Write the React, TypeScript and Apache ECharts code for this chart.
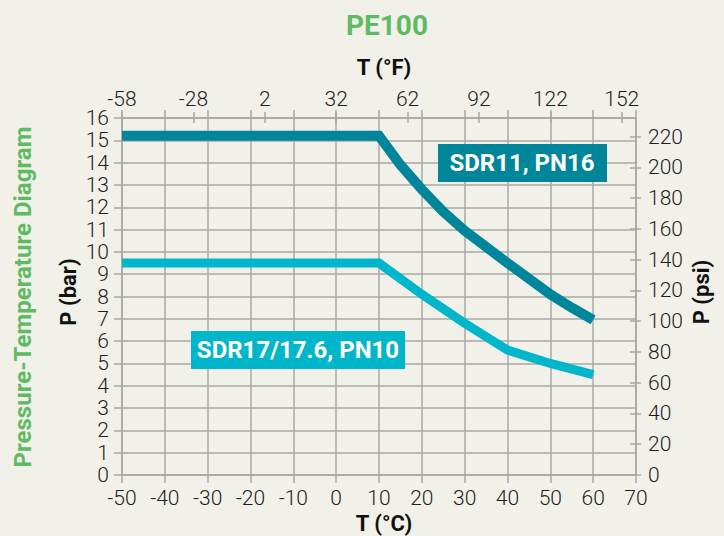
import React, { useEffect, useRef } from "react";
import * as echarts from "echarts";

// Temperature (°C) and pressure (bar)
const SDR11_T = [-50, 10, 15, 20, 25, 30, 40, 50, 55, 60];
const SDR11_P = [15.2, 15.2, 13.9, 12.8, 11.8, 10.95, 9.5, 8.1, 7.5, 6.95];
const SDR17_T = [-50, 10, 20, 30, 40, 50, 60];
const SDR17_P = [9.5, 9.5, 8.1, 6.8, 5.6, 5.0, 4.5];

const FAHRENHEIT_TICKS = [-58, -28, 2, 32, 62, 92, 122, 152];
const PSI_TICKS = [0, 20, 40, 60, 80, 100, 120, 140, 160, 180, 200, 220];

const C_MIN = -50;
const C_MAX = 70;
const BAR_MIN = 0;
const BAR_MAX = 16;

const TITLE = "PE100";
const SIDE_TITLE = "Pressure-Temperature Diagram";
const LABEL_SDR11 = "SDR11, PN16";
const LABEL_SDR17 = "SDR17/17.6, PN10";

const DARK = "#00869a";
const LIGHT = "#00b6ca";
const GREEN = "#5fbb63";
const GRID = "#a7a7a7";
const BG = "#f2f1e9";
const FONT = "Roboto";

const cToF = (c: number) => (c * 9) / 5 + 32;
const barToPsi = (b: number) => b * 14.5038;

export default function App() {
  const ref = useRef<HTMLDivElement>(null);
  useEffect(() => {
    if (!ref.current) return;
    const chart = echarts.init(ref.current, undefined, { renderer: "svg" });
    const tickLabel = {
      fontFamily: FONT,
      fontWeight: 300 as any,
      fontSize: 21,
      color: "#1e1e1e",
    };
    const gridLine = { color: GRID, width: 1.5 };
    const option: any = {
      animation: false,
      backgroundColor: BG,
      grid: { left: 122, top: 118, width: 514, height: 357 },
      xAxis: [
        {
          type: "value",
          position: "bottom",
          min: C_MIN,
          max: C_MAX,
          interval: 10,
          axisLine: { show: true, onZero: false, lineStyle: gridLine },
          axisTick: { show: true, length: 8, lineStyle: gridLine },
          axisLabel: { ...tickLabel, margin: 12 },
          splitLine: { show: true, lineStyle: gridLine },
        },
        {
          type: "value",
          position: "top",
          min: cToF(C_MIN),
          max: cToF(C_MAX),
          axisLine: { show: true, onZero: false, lineStyle: gridLine },
          axisTick: { show: true, length: 6, lineStyle: gridLine, customValues: FAHRENHEIT_TICKS },
          axisLabel: { ...tickLabel, margin: 9, customValues: FAHRENHEIT_TICKS },
          splitLine: { show: false },
        },
        {
          type: "value",
          position: "top",
          min: cToF(C_MIN),
          max: cToF(C_MAX),
          axisLine: { show: false, onZero: false },
          axisTick: { show: true, inside: true, length: 5, lineStyle: gridLine, customValues: FAHRENHEIT_TICKS },
          axisLabel: { show: false },
          splitLine: { show: false },
        },
        {
          type: "value",
          position: "top",
          min: C_MIN,
          max: C_MAX,
          interval: 10,
          axisLine: { show: false, onZero: false },
          axisTick: { show: true, length: 8, lineStyle: gridLine },
          axisLabel: { show: false },
          splitLine: { show: false },
        },
      ],
      yAxis: [
        {
          type: "value",
          position: "left",
          min: BAR_MIN,
          max: BAR_MAX,
          interval: 1,
          axisLine: { show: true, onZero: false, lineStyle: gridLine },
          axisTick: { show: true, length: 8, lineStyle: gridLine },
          axisLabel: { ...tickLabel, margin: 13 },
          splitLine: { show: true, lineStyle: gridLine },
        },
        {
          type: "value",
          position: "right",
          min: barToPsi(BAR_MIN),
          max: barToPsi(BAR_MAX),
          axisLine: { show: true, onZero: false, lineStyle: gridLine },
          axisTick: { show: true, length: 5, lineStyle: gridLine, customValues: PSI_TICKS },
          axisLabel: { ...tickLabel, margin: 12, customValues: PSI_TICKS },
          splitLine: { show: false },
        },
        {
          type: "value",
          position: "right",
          min: barToPsi(BAR_MIN),
          max: barToPsi(BAR_MAX),
          axisLine: { show: false, onZero: false },
          axisTick: { show: true, inside: true, length: 6, lineStyle: gridLine, customValues: PSI_TICKS },
          axisLabel: { show: false },
          splitLine: { show: false },
        },
      ],
      series: [
        {
          name: LABEL_SDR17,
          type: "line",
          xAxisIndex: 0,
          yAxisIndex: 0,
          data: SDR17_T.map((t, i) => [t, SDR17_P[i]]),
          showSymbol: false,
          lineStyle: { color: LIGHT, width: 9, cap: "butt", join: "miter" },
          z: 3,
        },
        {
          name: LABEL_SDR11,
          type: "line",
          xAxisIndex: 0,
          yAxisIndex: 0,
          data: SDR11_T.map((t, i) => [t, SDR11_P[i]]),
          showSymbol: false,
          lineStyle: { color: DARK, width: 10, cap: "butt", join: "miter" },
          z: 3,
        },
      ],
      graphic: [
        {
          type: "text",
          x: 387,
          y: 25,
          style: { text: TITLE, fill: GREEN, font: `bold 28px ${FONT}`, align: "center", verticalAlign: "middle" },
        },
        {
          type: "text",
          x: 384,
          y: 67,
          style: { text: "T (°F)", fill: "#111", font: `bold 22px ${FONT}`, align: "center", verticalAlign: "middle" },
        },
        {
          type: "text",
          x: 384,
          y: 523,
          style: { text: "T (°C)", fill: "#111", font: `bold 22px ${FONT}`, align: "center", verticalAlign: "middle" },
        },
        {
          type: "text",
          x: 68,
          y: 292,
          rotation: Math.PI / 2,
          style: { text: "P (bar)", fill: "#111", font: `bold 22px ${FONT}`, align: "center", verticalAlign: "middle" },
        },
        {
          type: "text",
          x: 701,
          y: 292,
          rotation: Math.PI / 2,
          style: { text: "P (psi)", fill: "#111", font: `bold 22px ${FONT}`, align: "center", verticalAlign: "middle" },
        },
        {
          type: "text",
          x: 23,
          y: 297,
          rotation: Math.PI / 2,
          style: { text: SIDE_TITLE, fill: GREEN, font: `bold 24px ${FONT}`, align: "center", verticalAlign: "middle" },
        },
        {
          type: "rect",
          shape: { x: 438, y: 144, width: 169, height: 38 },
          style: { fill: DARK },
          z: 10,
        },
        {
          type: "text",
          x: 522,
          y: 163,
          style: { text: LABEL_SDR11, fill: "#ffffff", font: `bold 24px ${FONT}`, align: "center", verticalAlign: "middle" },
          z: 11,
        },
        {
          type: "rect",
          shape: { x: 191, y: 331, width: 214, height: 38 },
          style: { fill: LIGHT },
          z: 10,
        },
        {
          type: "text",
          x: 298,
          y: 350,
          style: { text: LABEL_SDR17, fill: "#ffffff", font: `bold 24px ${FONT}`, align: "center", verticalAlign: "middle" },
          z: 11,
        },
      ],
    };
    chart.setOption(option);
    return () => chart.dispose();
  }, []);
  return (
    <div
      ref={ref}
      style={{ position: "fixed", left: 0, top: 0, width: 724, height: 536, background: BG }}
    />
  );
}
